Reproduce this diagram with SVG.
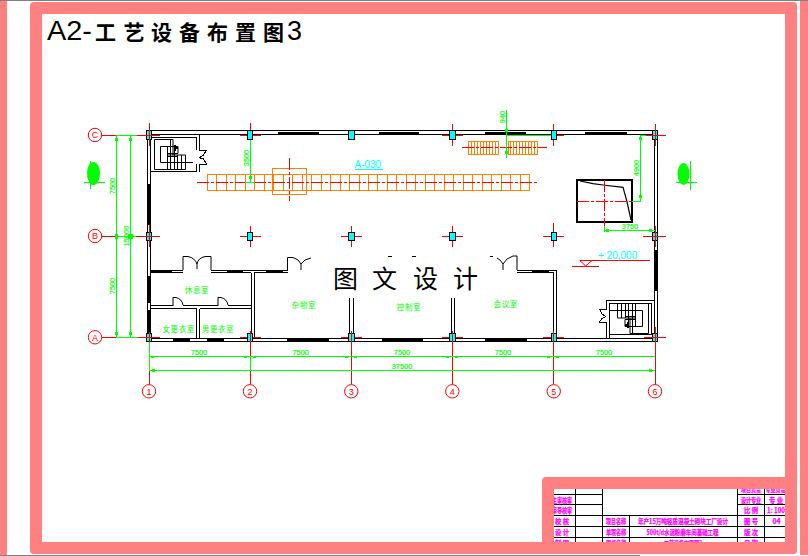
<svg xmlns="http://www.w3.org/2000/svg" width="808" height="556" viewBox="0 0 808 556">
<style>
text{font-family:"Liberation Sans","Noto Sans CJK SC",sans-serif}
.cjk{font-family:"Noto Sans CJK SC",sans-serif}
.pink{fill:#ff8080}
.crisp path,.crisp rect{shape-rendering:crispEdges}
.k{fill:none;stroke:#000;stroke-width:1}
.k2{fill:none;stroke:#000;stroke-width:1}
.win{fill:#000}
.col{fill:#00ffff;stroke:#000;stroke-width:1}
.r{fill:none;stroke:#ff0000;stroke-width:1}
.rd{fill:none;stroke:#ff0000;stroke-width:1;stroke-dasharray:12 2 3 2}
.b{fill:#fff;stroke:#ff0000;stroke-width:1}
.bt{fill:#ff0000;font-size:9px;text-anchor:middle}
.g{fill:none;stroke:#00ff00;stroke-width:1}
.gf{fill:#00ff00}
.dim{fill:#00ff00;stroke:#00ff00;stroke-width:.2;font-size:7.4px;text-anchor:middle}
.room{fill:#00ff00;font-size:7.5px;text-anchor:middle;letter-spacing:.6px;font-family:"Noto Sans CJK SC",sans-serif}
.o{fill:none;stroke:#ff8000;stroke-width:1}
.cy{fill:#00ffff;font-size:10px}
.m{fill:#ff00ff;stroke:#ff00ff;stroke-width:.25;font-size:7px;font-weight:bold;text-anchor:middle;font-family:"Noto Sans CJK SC",sans-serif}
</style>
<defs>
<pattern id="hatch" width="3" height="14" patternUnits="userSpaceOnUse"><rect width="1" height="14" fill="#ff8000"/></pattern>
<g id="stairLines">
<path class="k" d="M154.500 139.500H173V155M154.500 139.500V169.500H185.500V155H167.500M160.500 146.500H178V153.500M160.500 146.500V162.500H193M167.500 146.500V169.500M170.500 139.500V169.500M174.500 146V169.500M177.500 155V169.500M181.500 155V169.500M167.500 153.500H178M167.500 156.500H178"/>
<path d="M174 145h2v2h2v2h-2v2h-2z" fill="#000"/>
</g>
</defs>
<rect width="808" height="556" fill="#fff"/>
<g id="sheet">
<rect x="0" y="0" width="808" height="1" fill="#808080"/>
<rect x="0" y="555" width="640" height="1" fill="#808080"/>
<rect class="pink" x="0" y="1" width="7" height="554"/>
<rect class="pink" x="800" y="1" width="8" height="554"/>
<path class="pink" fill-rule="evenodd" d="M34 2H793Q797 2 797 6V550Q797 554 793 554H34Q30 554 30 550V6Q30 2 34 2ZM42 14V542H785V14Z"/>
</g>
<g id="title"><text x="47" y="40" font-size="27" fill="#000" textLength="45" lengthAdjust="spacingAndGlyphs">A2-</text>
<text class="cjk" y="40" font-size="21" font-weight="700" fill="#000" x="95 123.500 151 179 207 235 263">工艺设备布置图</text>
<text x="287" y="40" font-size="27" fill="#000">3</text></g>

<g class="crisp">
<g id="walls">
<path class="k2" d="M148 130.500H656M150 134.500H654M147 131V338M150 135V337M148 338.500H656M148 341.500H656M654.500 135V338M657.500 131V341"/>
<path class="win" d="M278 131.500h41v3h-41zM379 131.500h40v3h-40zM485 131.500h41v3h-41zM585 131.500h42v3h-42zM146.500 184h4v41h-4zM146.500 276h4v27h-4zM146.500 310h4v23h-4zM173 338.500h17v3h-17zM207 338.500h17v3h-17zM287 338.500h42v3h-42zM382 338.500h41v3h-41zM485 338.500h42v3h-42zM654.500 250h3.500v41h-3.500zM151 270h21v2.500h-21zM227 270h16v2.500h-16zM266 270h17v2.500h-17zM532 270h17v2.500h-17z"/>
<path class="k" d="M150 270.500H183M150 272.500H183M211 270.500H287.500M211 272.500H251M254 272.500H287.500M517 270.500H556.500M517 272.500H553.500M251.500 272.500V338M254.500 272.500V338M553.500 272.500V338M556.500 270V338M349.500 298V338M353.500 298V338M451.500 298V338M454.500 298V338M150 305.500H173M150 308.500H196.500M183 305.500H218M199.500 308.500H251M228 305.500H251M196.500 308.500V338M199.500 308.500V338"/>
</g>
</g>
<path class="k" d="M183 270V256.500H188Q195 258 197 264V269M211 270V256.500H205Q198 258 197 264M287.500 270V257.500H293Q299 259 301 264V270M301 264Q304 259 311 258M517 270V256H513Q506 258 503 264V270M503 264Q500 259 497 258M173 306V297.500H176Q182 299 183 305M218 306V297.500H221Q227 299 228 305M388 256.500h4M412 256.500h4M490 256.500h3"/>
<g id="stair-nw" class="crisp">
<path class="k" d="M150 137.500H196.500V150M196.500 164V171.500H150M199.500 134.500V150H206.500L203.500 155L199 157.500M199.500 171.500V164H206.500L203.500 159L199 157.500"/>
<use href="#stairLines"/>
</g>
<g id="stair-se" class="crisp">
<path class="k" d="M654 300.500H606.500V309M606.500 322V338M609.500 338V303.500H651.500V334.500H609.500M606.500 309H599.500L602 314L606 316.500M606.500 322H599.500L602 318.500L606 316.500"/>
<use href="#stairLines" transform="translate(803 473) scale(-1 -1)"/>
</g>
<g id="machines" class="crisp">
<rect class="o" x="207.500" y="174.500" width="322" height="16"/>
<path class="o" d="M216.500 174V190M226.500 174V190M235.500 174V190M245.500 174V190M254.500 174V190M264.500 174V190M273.500 174V190M283.500 174V190M292.500 174V190M302.500 174V190M311.500 174V190M321.500 174V190M330.500 174V190M340.500 174V190M349.500 174V190M359.500 174V190M368.500 174V190M377.500 174V190M387.500 174V190M396.500 174V190M406.500 174V190M415.500 174V190M425.500 174V190M434.500 174V190M444.500 174V190M453.500 174V190M463.500 174V190M472.500 174V190M482.500 174V190M491.500 174V190M501.500 174V190M510.500 174V190M520.500 174V190"/>
<rect class="o" x="272.500" y="168.500" width="34" height="26"/>
<rect x="468.500" y="141.500" width="30" height="13" fill="url(#hatch)" stroke="#ff8000"/>
<rect x="508.500" y="141.500" width="29" height="13" fill="url(#hatch)" stroke="#ff8000"/>
<rect x="577" y="180" width="55" height="42" fill="none" stroke="#000" stroke-width="2"/>
</g>
<path d="M580 181L593 183.700L603 185L623 187.300L627 201.700L631 220" fill="none" stroke="#000" stroke-width="1.200"/>
<g id="connectors">
<g id="red-axes" class="crisp">
<path class="r" d="M102 135.500H116M137 135.500H160M102 236.500H116M136 236.500H160M102 337.500H116M138 337.500H160M149.500 123V146M149.500 225V247M149.500 332V384M250.500 123V145M240 135.500H261M250.500 226V247M240 236.500H261M240 337.500H261M250.500 331V384M341 236.500H362M351.500 226V247M341 337.500H362M351.500 331V384M452.500 124V146M442 135.500H463M452.500 226V247M442 236.500H463M442 337.500H463M452.500 331V384M553.500 124V146M543 135.500H564M553.500 223V247M543 236.500H564M543 337.500H564M553.500 331V384M655.500 124V146M645 135.500H666M655.500 226V247M643 236.500H666M644 337.500H666M655.500 327V384"/>
<path class="rd" d="M197 182.500H539M462 147.500H547M577 201.500H632"/>
<path class="rd" d="M289.500 158V201M604.500 180V231"/>
<path class="r" d="M579.500 260.500H650M572 266.500H599"/>
</g>
<path class="r" d="M579.700 260.500L585.700 266L592 260.500"/>
<g id="green-dims" class="crisp">
<path class="g" d="M116 135.500H137M116 236.500H136M116 337.500H138M116.500 135V337M130.500 135V337M149.500 341V371M149 356.500H655M149 370.500H655M250.500 356V370M250.500 135V182M245 182.500H255M506.500 110V158M506.500 135.500H553M640.500 135V201M640 135.500H646M632 201.500H641M604.500 226V232M604.500 230.500H655M84 182.500H105M90.500 161V189M676 182.500H697M690.500 161V190"/>
<path class="gf" d="M115 138h3v3h-3zM129 138h3v3h-3zM115 234h3v5h-3zM128 234h5v5h-5zM115 332h3v3h-3zM129 332h3v3h-3zM151 356h3v2h-3zM244 356h3v2h-3zM253 356h3v2h-3zM345 356h3v2h-3zM354 356h3v2h-3zM446 356h3v2h-3zM455 356h3v2h-3zM547 356h3v2h-3zM556 356h3v2h-3zM152 369h3v3h-3zM649 369h3v3h-3zM249 137h3v3h-3zM249 176h3v3h-3zM505 129h3v3h-3zM505 151h3v3h-3zM639 137h3v3h-3zM639 195h3v3h-3zM606 229h3v3h-3zM649 229h3v3h-3z"/>
</g>
<ellipse class="gf" cx="93.500" cy="173.500" rx="6.500" ry="11.500"/>
<ellipse class="gf" cx="683.500" cy="174" rx="6" ry="11"/>
</g>
<g id="columns" class="crisp">
<rect class="col" x="146.500" y="130.500" width="5" height="9"/><rect class="col" x="247.500" y="130.500" width="5" height="9"/><rect class="col" x="348.500" y="130.500" width="6" height="9"/><rect class="col" x="449.500" y="130.500" width="6" height="9"/><rect class="col" x="551.500" y="130.500" width="5" height="9"/><rect class="col" x="652.500" y="130.500" width="5" height="9"/>
<rect class="col" x="146.500" y="232.500" width="5" height="8"/><rect class="col" x="247.500" y="232.500" width="5" height="8"/><rect class="col" x="348.500" y="232.500" width="6" height="8"/><rect class="col" x="449.500" y="232.500" width="6" height="8"/><rect class="col" x="551.500" y="232.500" width="5" height="8"/><rect class="col" x="652.500" y="232.500" width="5" height="8"/>
<rect class="col" x="146.500" y="333.500" width="5" height="8"/><rect class="col" x="247.500" y="333.500" width="5" height="8"/><rect class="col" x="348.500" y="333.500" width="6" height="8"/><rect class="col" x="449.500" y="333.500" width="6" height="8"/><rect class="col" x="551.500" y="333.500" width="5" height="8"/><rect class="col" x="652.500" y="333.500" width="5" height="8"/>
<path class="r" d="M149.500 130V146M149.500 232V241M142 135.500H156M142 236.500H156M142 337.500H156M149.500 332V342M655.500 130V146M648 135.500H662M648 236.500H662M648 337.500H662M655.500 232V241M655.500 332V342M250.500 332V342M351.500 332V342M452.500 332V342M553.500 332V342"/>
</g>
<g id="axis-bubbles">
<g id="axis-C"><circle class="b" cx="95" cy="135" r="6.700"/><text class="bt" x="95" y="138.200">C</text></g>
<g id="axis-B"><circle class="b" cx="95" cy="236" r="6.700"/><text class="bt" x="95" y="239.200">B</text></g>
<g id="axis-A"><circle class="b" cx="95" cy="337.300" r="6.700"/><text class="bt" x="95" y="340.500">A</text></g>
<g id="axis-1"><circle class="b" cx="149" cy="391.300" r="6.700"/><text class="bt" x="149" y="394.500">1</text></g>
<g id="axis-2"><circle class="b" cx="250" cy="391.300" r="6.700"/><text class="bt" x="250" y="394.500">2</text></g>
<g id="axis-3"><circle class="b" cx="351.300" cy="391.300" r="6.700"/><text class="bt" x="351.300" y="394.500">3</text></g>
<g id="axis-4"><circle class="b" cx="452.300" cy="391.300" r="6.700"/><text class="bt" x="452.300" y="394.500">4</text></g>
<g id="axis-5"><circle class="b" cx="553.700" cy="391.300" r="6.700"/><text class="bt" x="553.700" y="394.500">5</text></g>
<g id="axis-6"><circle class="b" cx="655" cy="391.300" r="6.700"/><text class="bt" x="655" y="394.500">6</text></g>
</g>
<g id="labels">
<text class="dim" x="199" y="355">7500</text><text class="dim" x="300.700" y="355">7500</text><text class="dim" x="402" y="355">7500</text><text class="dim" x="503" y="355">7500</text><text class="dim" x="604" y="355">7500</text><text class="dim" x="402" y="369">37500</text>
<text class="dim" transform="translate(115 186) rotate(-90)">7500</text>
<text class="dim" transform="translate(129 236) rotate(-90)">15000</text>
<text class="dim" transform="translate(115 286) rotate(-90)">7500</text>
<text class="dim" transform="translate(249 158) rotate(-90)">3500</text>
<text class="dim" transform="translate(505 117) rotate(-90)">940</text>
<text class="dim" transform="translate(638.500 168) rotate(-90)">4900</text>
<text class="dim" x="630" y="229">3750</text>
<text class="room" x="197" y="293">休息室</text><text class="room" x="304" y="308">杂物室</text><text class="room" x="178.700" y="332">女更衣室</text><text class="room" x="218" y="332">男更衣室</text><text class="room" x="409" y="310">控制室</text><text class="room" x="505.700" y="307">会议室</text>
<text class="cy" x="354.500" y="168">A-030</text><path d="M354.500 169.500H383" stroke="#00ffff" fill="none" shape-rendering="crispEdges"/>
<text class="cy" x="598" y="259">+ 20,000</text>
<text class="cjk" y="288" font-size="25" fill="#000" x="333 372 413 453">图文设计</text>
</g>
<g id="title-block">
<rect x="554" y="489" width="231" height="53" fill="#fff"/>
<g class="crisp"><path class="k" d="M554 494.500H602M554 504.500H602M737 494.500H785M737 504.500H785M548 515.500H785M548 526.500H785M548 537.500H785M575.500 485V542M602.500 485V542M629.500 515V542M737.500 485V542M764.500 485V542"/></g>
<text class="m" x="562" y="502.500" textLength="20" lengthAdjust="spacingAndGlyphs">主审核审</text><text class="m" x="562" y="513" textLength="20" lengthAdjust="spacingAndGlyphs">审导核审</text><text class="m" x="562" y="524" textLength="14" lengthAdjust="spacingAndGlyphs">校 核</text><text class="m" x="562" y="535" textLength="14" lengthAdjust="spacingAndGlyphs">设 计</text><text class="m" x="562" y="546" textLength="14" lengthAdjust="spacingAndGlyphs">制 图</text>
<text class="m" x="616" y="524" textLength="20" lengthAdjust="spacingAndGlyphs">项目名称</text><text class="m" x="616" y="535" textLength="20" lengthAdjust="spacingAndGlyphs">单项名称</text><text class="m" x="616" y="546" textLength="20" lengthAdjust="spacingAndGlyphs">图纸名称</text>
<text class="m" x="683" y="524" textLength="90" lengthAdjust="spacingAndGlyphs">年产15万吨轻质混凝土砌块工厂设计</text>
<text class="m" x="682.500" y="535" textLength="72" lengthAdjust="spacingAndGlyphs">500t/d水泥粉磨车间基础工程</text>
<text class="m" x="683" y="546" textLength="38" lengthAdjust="spacingAndGlyphs">工艺设备布置图3</text>
<text class="m" x="751" y="491.500" textLength="20" lengthAdjust="spacingAndGlyphs">项目负责</text><text class="m" x="775.500" y="491.500" textLength="20" lengthAdjust="spacingAndGlyphs">专业负责</text>
<text class="m" x="751" y="502.500" textLength="20" lengthAdjust="spacingAndGlyphs">设计专业</text><text class="m" x="776" y="502.500" textLength="14" lengthAdjust="spacingAndGlyphs">专 业</text>
<text class="m" x="751" y="513" textLength="14" lengthAdjust="spacingAndGlyphs">比 例</text><text class="m" x="776" y="513" textLength="18" lengthAdjust="spacingAndGlyphs">1: 100</text>
<text class="m" x="751" y="524" textLength="14" lengthAdjust="spacingAndGlyphs">图 号</text><text class="m" x="776.500" y="524" textLength="8" lengthAdjust="spacingAndGlyphs">04</text>
<text class="m" x="751" y="535" textLength="14" lengthAdjust="spacingAndGlyphs">版 次</text><text class="m" x="751" y="546" textLength="14" lengthAdjust="spacingAndGlyphs">日 期</text>
<path class="pink" fill-rule="evenodd" d="M546 477H785V489H554V542H785V14H797V550Q797 554 793 554H546Q542 554 542 550V481Q542 477 546 477Z"/>
</g>
</svg>
